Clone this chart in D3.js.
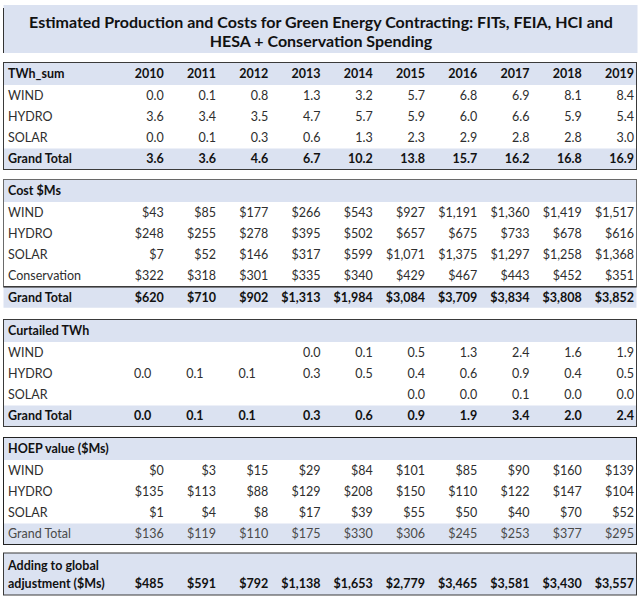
<!DOCTYPE html>
<html>
<head>
<meta charset="utf-8">
<script src="https://cdn.jsdelivr.net/npm/d3@7"></script>
<style>
  body { margin: 0; background: #fff; }
  svg { display: block; font-family: Lato, "Open Sans", sans-serif; }
</style>
</head>
<body>
<div id="chart"></div>
<script>

const years = [2010, 2011, 2012, 2013, 2014, 2015, 2016, 2017, 2018, 2019];

// TWh_sum
const twhWind  = [0.0, 0.1, 0.8, 1.3, 3.2, 5.7, 6.8, 6.9, 8.1, 8.4];
const twhHydro = [3.6, 3.4, 3.5, 4.7, 5.7, 5.9, 6.0, 6.6, 5.9, 5.4];
const twhSolar = [0.0, 0.1, 0.3, 0.6, 1.3, 2.3, 2.9, 2.8, 2.8, 3.0];
const twhTotal = [3.6, 3.6, 4.6, 6.7, 10.2, 13.8, 15.7, 16.2, 16.8, 16.9];

// Cost $Ms
const costWind  = [43, 85, 177, 266, 543, 927, 1191, 1360, 1419, 1517];
const costHydro = [248, 255, 278, 395, 502, 657, 675, 733, 678, 616];
const costSolar = [7, 52, 146, 317, 599, 1071, 1375, 1297, 1258, 1368];
const costConservation = [322, 318, 301, 335, 340, 429, 467, 443, 452, 351];
const costTotal = [620, 710, 902, 1313, 1984, 3084, 3709, 3834, 3808, 3852];

// Curtailed TWh (null = empty cell)
const curtWind  = [null, null, null, 0.0, 0.1, 0.5, 1.3, 2.4, 1.6, 1.9];
const curtHydro = [0.0, 0.1, 0.1, 0.3, 0.5, 0.4, 0.6, 0.9, 0.4, 0.5];
const curtSolar = [null, null, null, null, null, 0.0, 0.0, 0.1, 0.0, 0.0];
const curtTotal = [0.0, 0.1, 0.1, 0.3, 0.6, 0.9, 1.9, 3.4, 2.0, 2.4];
const curtCentered = [2010, 2011, 2012]; // these cells are centred in the sheet

// HOEP value ($Ms)
const hoepWind  = [0, 3, 15, 29, 84, 101, 85, 90, 160, 139];
const hoepHydro = [135, 113, 88, 129, 208, 150, 110, 122, 147, 104];
const hoepSolar = [1, 4, 8, 17, 39, 55, 50, 40, 70, 52];
const hoepTotal = [136, 119, 110, 175, 330, 306, 245, 253, 377, 295];

// Adding to global adjustment ($Ms)
const globalAdj = [485, 591, 792, 1138, 1653, 2779, 3465, 3581, 3430, 3557];

const titleLines = [
    "Estimated Production and Costs for Green Energy Contracting: FITs, FEIA, HCI and",
    "HESA + Conservation Spending"
];

const svgWidth = 640;
const svgHeight = 600;
const boxLeft = 3.5;
const boxRight = 636.5;
const labelX = 8;
const rowStep = 21.25;
const headBg = "#dbe2f1";
const ink = "#2e2e2e";

const svg = d3.select("#chart")
    .append("svg")
    .attr("width", svgWidth)
    .attr("height", svgHeight);

// columns: right edge of each band is where the numbers end
const x = d3.scaleBand()
    .domain(years)
    .range([111.5, 634]);

const f1 = d3.format(".1f");
const money = d => "$" + d3.format(",")(d);

// title block
svg.append("rect")
    .attr("x", boxLeft).attr("y", 5)
    .attr("width", boxRight - boxLeft + 1).attr("height", 48)
    .attr("fill", headBg);
svg.append("line")
    .attr("x1", boxLeft).attr("x2", boxLeft)
    .attr("y1", 8).attr("y2", 53)
    .attr("stroke", "#333");
svg.selectAll(".title")
    .data(titleLines)
    .enter()
    .append("text")
    .attr("class", "title")
    .attr("x", 321)
    .attr("y", (d, i) => 22 + i * 19)
    .attr("dy", "0.35em")
    .attr("text-anchor", "middle")
    .style("font-size", "16px")
    .style("font-weight", "bold")
    .attr("fill", "#111")
    .text(d => d);

const blocks = [
    {
        top: 63, head: "TWh_sum", showYears: true, fmt: f1, outline: "#3a3a3a",
        rows: [["WIND", twhWind], ["HYDRO", twhHydro], ["SOLAR", twhSolar]],
        total: twhTotal, totalBold: true, totalBoxed: true
    },
    {
        top: 180, head: "Cost $Ms", fmt: money, outline: "#6a6a6a",
        rows: [["WIND", costWind], ["HYDRO", costHydro], ["SOLAR", costSolar], ["Conservation", costConservation]],
        total: costTotal, totalBold: true, totalBoxed: false
    },
    {
        top: 320, head: "Curtailed TWh", fmt: f1, centered: curtCentered, outline: "#3a3a3a",
        rows: [["WIND", curtWind], ["HYDRO", curtHydro], ["SOLAR", curtSolar]],
        total: curtTotal, totalBold: true, totalBoxed: true
    },
    {
        top: 438, head: "HOEP value ($Ms)", fmt: money, outline: "#222",
        rows: [["WIND", hoepWind], ["HYDRO", hoepHydro], ["SOLAR", hoepSolar]],
        total: hoepTotal, totalBold: false, totalBoxed: true
    }
];

function rowY(block, i) {
    // i = 0 is the header row
    return block.top + 11 + i * rowStep;
}

blocks.forEach(block => {
    const g = svg.append("g");
    const nRows = block.rows.length;
    const totalY = rowY(block, nRows + 1);
    const boxBottom = block.totalBoxed ? totalY + 10.5 : totalY - 10.5;

    // header band and total band
    g.append("rect")
        .attr("x", boxLeft).attr("y", block.top)
        .attr("width", boxRight - boxLeft).attr("height", 22)
        .attr("fill", headBg);
    g.append("rect")
        .attr("x", boxLeft).attr("y", totalY - 10.5)
        .attr("width", boxRight - boxLeft).attr("height", 21)
        .attr("fill", headBg);

    // outline
    g.append("rect")
        .attr("x", boxLeft).attr("y", block.top - 0.5)
        .attr("width", boxRight - boxLeft).attr("height", boxBottom - block.top + 0.5)
        .attr("fill", "none")
        .attr("stroke", block.outline)
        .attr("stroke-width", 1);
    if (!block.totalBoxed) {
        g.append("line")
            .attr("x1", boxLeft).attr("x2", boxRight)
            .attr("y1", boxBottom).attr("y2", boxBottom)
            .attr("stroke", "#3a3a3a")
            .attr("stroke-width", 1.5);
    }

    // header label
    g.append("text")
        .attr("x", labelX).attr("y", rowY(block, 0))
        .attr("dy", "0.35em")
        .style("font-size", "12.5px")
        .style("font-weight", "bold")
        .attr("fill", "#111")
        .text(block.head);

    if (block.showYears) {
        g.selectAll(".year")
            .data(years)
            .enter()
            .append("text")
            .attr("class", "year")
            .attr("x", d => x(d) + x.bandwidth())
            .attr("y", rowY(block, 0))
            .attr("dy", "0.35em")
            .attr("text-anchor", "end")
            .style("font-size", "12.5px")
            .style("font-weight", "bold")
            .attr("fill", "#111")
            .text(d => d);
    }

    const allRows = block.rows.map(r => ({ label: r[0], values: r[1], bold: false, total: false }));
    allRows.push({ label: "Grand Total", values: block.total, bold: block.totalBold, total: true });

    allRows.forEach((row, ri) => {
        const y = rowY(block, ri + 1);
        const color = row.total && !row.bold ? "#4a4a4a" : (row.bold ? "#111" : ink);
        g.append("text")
            .attr("x", labelX).attr("y", y)
            .attr("dy", "0.35em")
            .style("font-size", "12.5px")
            .style("font-weight", row.bold ? "bold" : "normal")
            .attr("fill", color)
            .text(row.label);

        const cells = years.map((yr, i) => ({ year: yr, v: row.values[i] }))
            .filter(c => c.v !== null);
        g.selectAll(null)
            .data(cells)
            .enter()
            .append("text")
            .attr("x", c => (block.centered && block.centered.includes(c.year))
                ? x(c.year) + x.bandwidth() / 2 + 5
                : x(c.year) + x.bandwidth())
            .attr("y", y)
            .attr("dy", "0.35em")
            .attr("text-anchor", c => (block.centered && block.centered.includes(c.year)) ? "middle" : "end")
            .style("font-size", "12.5px")
            .style("font-weight", row.bold ? "bold" : "normal")
            .attr("fill", color)
            .text(c => block.fmt(c.v));
    });
});

// Adding to global adjustment
const adj = svg.append("g");
adj.append("rect")
    .attr("x", boxLeft).attr("y", 553)
    .attr("width", boxRight - boxLeft).attr("height", 42)
    .attr("fill", headBg)
    .attr("stroke", "#3a3a3a");
adj.selectAll(".adjLabel")
    .data(["Adding to global", "adjustment ($Ms)"])
    .enter()
    .append("text")
    .attr("x", labelX)
    .attr("y", (d, i) => 566 + i * 18)
    .attr("dy", "0.35em")
    .style("font-size", "12.5px")
    .style("font-weight", "bold")
    .attr("fill", "#111")
    .text(d => d);
adj.selectAll(".adjValue")
    .data(years.map((yr, i) => ({ year: yr, v: globalAdj[i] })))
    .enter()
    .append("text")
    .attr("x", c => x(c.year) + x.bandwidth())
    .attr("y", 584)
    .attr("dy", "0.35em")
    .attr("text-anchor", "end")
    .style("font-size", "12.5px")
    .style("font-weight", "bold")
    .attr("fill", "#111")
    .text(c => money(c.v));

</script>
</body>
</html>
